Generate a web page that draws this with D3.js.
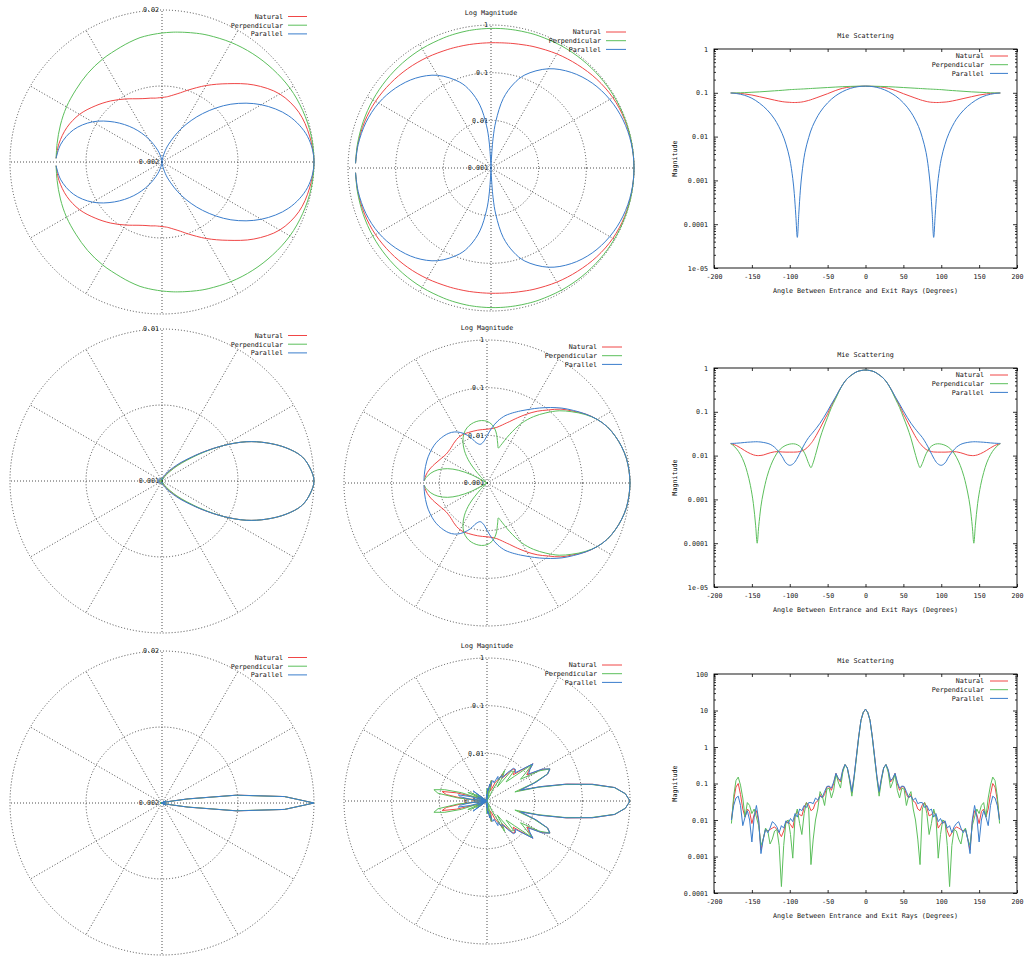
<!DOCTYPE html>
<html lang="en">
<head>
<meta charset="UTF-8">
<title>Mie Scattering</title>
<style>
  body { margin: 0; background: #fff; }
  svg text { font-family: "DejaVu Sans Mono", monospace; font-size: 6.7px; fill: #111; }
  .grid { fill: none; stroke: #222; stroke-width: 0.8; stroke-dasharray: 1,2; }
  .curve { fill: none; stroke-width: 1; }
  .tick line { stroke: #000; stroke-width: 0.8; }
</style>
</head>
<body>
<svg id="chart"></svg>
<script src="https://cdnjs.cloudflare.com/ajax/libs/d3/7.8.5/d3.min.js"></script>
<script>
// series names / colours (legend order = draw order)
const seriesNames = ['Natural', 'Perpendicular', 'Parallel'];
const seriesColors = ['#f04646', '#5cbf5c', '#3a7dcc'];

// row 1: angle (deg, 0..180, symmetric) and magnitude
const angles1 = [0,10,20,30,40,50,60,70,75,80,84,86,88,90,92,94,96,100,105,110,120,130,140,150,160,170,178];
const natural1 = [0.142,0.140,0.136,0.127,0.112,0.0955,0.0825,0.0715,0.067,0.0637,0.0617,0.061,0.0606,0.0603,0.0601,0.06,0.06,0.0606,0.0614,0.0629,0.068,0.0745,0.0815,0.089,0.0945,0.0978,0.099];
const perpendicular1 = [0.142,0.1415,0.140,0.138,0.135,0.132,0.129,0.126,0.1245,0.123,0.122,0.1215,0.121,0.1205,0.12,0.1195,0.119,0.118,0.116,0.114,0.111,0.108,0.105,0.103,0.101,0.0995,0.099];
const parallel1 = [0.142,0.138,0.126,0.107,0.084,0.059,0.036,0.017,0.0095,0.0043,0.0014,0.0006,0.00018,0.00005,0.00016,0.0005,0.0011,0.0031,0.0067,0.0117,0.025,0.041,0.058,0.075,0.088,0.096,0.099];

// row 2
const angles2 = [0,5,10,15,20,25,30,35,40,45,50,55,60,65,70,72,75,80,85,90,95,100,105,110,115,120,125,130,135,138,141,143,145,148,152,156,160,165,170,175,178];
const natural2 = [0.9,0.88,0.84,0.76,0.66,0.55,0.42,0.3,0.2,0.14,0.09,0.062,0.042,0.029,0.021,0.019,0.0165,0.0138,0.0126,0.0121,0.012,0.012,0.012,0.0121,0.0123,0.0122,0.0117,0.011,0.0103,0.0101,0.01,0.01,0.0101,0.0104,0.0111,0.012,0.0132,0.015,0.0168,0.0182,0.0188];
const perpendicular2 = [0.9,0.88,0.84,0.76,0.66,0.55,0.42,0.29,0.19,0.125,0.075,0.045,0.025,0.012,0.0062,0.0053,0.0066,0.011,0.0152,0.0177,0.0186,0.0183,0.0172,0.0153,0.0126,0.0092,0.006,0.0033,0.0014,0.0007,0.00024,0.0001,0.00025,0.0008,0.0021,0.0041,0.0068,0.0105,0.0141,0.0173,0.0186];
const parallel2 = [0.9,0.88,0.84,0.76,0.66,0.55,0.42,0.3,0.21,0.15,0.105,0.075,0.055,0.042,0.033,0.03,0.026,0.019,0.013,0.0088,0.0066,0.006,0.0068,0.0095,0.0125,0.0155,0.0178,0.0192,0.02,0.0204,0.0206,0.0207,0.0207,0.0206,0.0204,0.0202,0.0199,0.0195,0.0192,0.019,0.019];

// row 3
const angles3 = [0,3,6,9,12,15,18,21,24,27,30,33,36,39,42,45,48,51,54,57,60,63,66,69,72,75,78,81,84,87,90,93,96,99,102,105,108,111,114,117,120,123,126,129,132,135,138,141,144,147,150,153,156,159,162,165,168,171,174,177];
const natural3 = [10.9,8.8,5.4,1.9,0.55,0.155,0.055,0.13,0.27,0.33,0.23,0.11,0.13,0.19,0.1,0.065,0.083,0.08,0.05,0.04,0.05,0.033,0.03,0.02,0.018,0.026,0.03,0.022,0.013,0.014,0.017,0.013,0.006,0.0075,0.009,0.0085,0.005,0.0035,0.0045,0.0055,0.0065,0.006,0.0055,0.005,0.0055,0.003,0.0015,0.009,0.018,0.014,0.008,0.017,0.02,0.012,0.02,0.05,0.1,0.08,0.035,0.01];
const perpendicular3 = [10.9,8.8,5.3,1.8,0.5,0.14,0.045,0.12,0.26,0.33,0.2,0.075,0.11,0.18,0.065,0.04,0.075,0.07,0.025,0.045,0.06,0.02,0.01,0.003,0.0006,0.02,0.03,0.015,0.004,0.008,0.02,0.012,0.0009,0.004,0.01,0.009,0.002,0.00015,0.002,0.0055,0.005,0.003,0.0022,0.005,0.006,0.003,0.002,0.007,0.012,0.02,0.015,0.025,0.03,0.012,0.04,0.09,0.15,0.12,0.045,0.008];
const parallel3 = [10.9,8.8,5.4,1.9,0.55,0.16,0.06,0.14,0.27,0.33,0.24,0.12,0.14,0.19,0.11,0.075,0.085,0.083,0.06,0.042,0.045,0.035,0.04,0.028,0.03,0.03,0.022,0.025,0.018,0.02,0.012,0.015,0.009,0.011,0.008,0.0095,0.006,0.007,0.0045,0.0065,0.008,0.009,0.006,0.0045,0.0055,0.003,0.0012,0.01,0.025,0.012,0.0025,0.01,0.018,0.012,0.007,0.025,0.045,0.04,0.025,0.01];

// tick labels
const linearPolarLabels = [['0.002', '0.02'], ['0.001', '0.01'], ['0.002', '0.02']];
const logPolarLabels = ['0.001', '0.01', '0.1', '1'];
const xTickValues = [-200, -150, -100, -50, 0, 50, 100, 150, 200];
const yTickLabels12 = ['1', '0.1', '0.01', '0.001', '0.0001', '1e-05'];
const yTickLabels3 = ['100', '10', '1', '0.1', '0.01', '0.001', '0.0001'];

const width = 1028, height = 956;
const svg = d3.select('#chart').attr('width', width).attr('height', height);

function mirror(angles, values) {
  const pts = angles.map((a, i) => ({a: a, v: values[i]}));
  const neg = pts.slice(1).reverse().map(p => ({a: -p.a, v: p.v}));
  return neg.concat(pts);
}

// rows 1 and 2 are smooth curves, row 3 is drawn as a plain polyline
const rows = [
  {series: [natural1, perpendicular1, parallel1], angles: angles1, curve: d3.curveCatmullRom.alpha(0.5)},
  {series: [natural2, perpendicular2, parallel2], angles: angles2, curve: d3.curveCatmullRom.alpha(0.5)},
  {series: [natural3, perpendicular3, parallel3], angles: angles3, curve: d3.curveLinear}
];

function legend(g, textRight, y0, x1, x2) {
  seriesNames.forEach((name, i) => {
    const y = y0 + i * 8.7;
    g.append('text').attr('x', textRight).attr('y', y).attr('dy', '0.35em')
      .attr('text-anchor', 'end').text(name);
    g.append('line').attr('x1', x1).attr('x2', x2).attr('y1', y).attr('y2', y)
      .attr('stroke', seriesColors[i]).attr('stroke-width', 1);
  });
}

function drawPolar(row, cx, cy, log, labels, title) {
  const R = log ? 143 : 152;
  const peak = d3.max(row.series, s => d3.max(s));
  const r = log
    ? d3.scaleLog().domain([peak / 1000, peak]).range([0, R]).clamp(true)
    : d3.scaleLinear().domain([0, peak]).range([0, R]);
  const ringValues = log ? [peak / 100, peak / 10, peak] : [peak / 2, peak];
  const g = svg.append('g');

  ringValues.forEach(v => {
    g.append('circle').attr('class', 'grid').attr('cx', cx).attr('cy', cy).attr('r', r(v));
  });
  d3.range(0, 360, 30).forEach(deg => {
    const t = deg * Math.PI / 180;
    g.append('line').attr('class', 'grid')
      .attr('x1', cx).attr('y1', cy)
      .attr('x2', cx + R * Math.cos(t)).attr('y2', cy - R * Math.sin(t));
  });

  // radial labels along the vertical axis: centre first, then rings
  const labelRadii = [0].concat(ringValues.map(v => r(v)));
  const shown = log ? labels : [labels[0], null, labels[1]];
  shown.forEach((txt, i) => {
    if (txt === null) return;
    g.append('text').attr('x', cx - 3).attr('y', cy - labelRadii[i]).attr('dy', '0.35em')
      .attr('text-anchor', 'end').text(txt);
  });

  if (title) {
    g.append('text').attr('x', cx).attr('y', cy - R - 12.5).attr('dy', '0.35em')
      .attr('text-anchor', 'middle').text(title);
  }

  const line = d3.line()
    .curve(row.curve)
    .x(p => cx + r(p.v) * Math.cos(p.a * Math.PI / 180))
    .y(p => cy - r(p.v) * Math.sin(p.a * Math.PI / 180));
  row.series.forEach((s, i) => {
    g.append('path').attr('class', 'curve').attr('stroke', seriesColors[i])
      .attr('d', line(mirror(row.angles, s)));
  });

  if (log) legend(g, cx + 110, cy - 136, cx + 115, cx + 135);
  else legend(g, cx + 121, cy - 145.5, cx + 126, cx + 145);
}

function drawCartesian(row, top, yLabels, idx) {
  const left = 714, right = 1017, bottom = top + 219;
  const yTicks = yLabels.map(Number);
  const x = d3.scaleLinear().domain([-200, 200]).range([left, right]);
  const y = d3.scaleLog().domain([yTicks[yTicks.length - 1], yTicks[0]]).range([bottom, top]);
  const minors = [];
  yTicks.slice(1).forEach(d => d3.range(2, 10).forEach(k => minors.push(d * k)));
  const g = svg.append('g');
  const noDomain = sel => sel.select('.domain').remove();

  g.append('g').attr('transform', `translate(0,${bottom})`)
    .call(d3.axisBottom(x).tickValues(xTickValues).tickSize(-3).tickPadding(6).tickFormat(d => String(d)))
    .call(noDomain);
  g.append('g').attr('transform', `translate(0,${top})`)
    .call(d3.axisTop(x).tickValues(xTickValues).tickSize(-3).tickFormat(''))
    .call(noDomain);
  g.append('g').attr('transform', `translate(${left},0)`)
    .call(d3.axisLeft(y).tickValues(yTicks).tickSize(-4).tickPadding(6).tickFormat((d, i) => yLabels[i]))
    .call(noDomain);
  g.append('g').attr('transform', `translate(${right},0)`)
    .call(d3.axisRight(y).tickValues(yTicks).tickSize(-4).tickFormat(''))
    .call(noDomain);
  g.append('g').attr('transform', `translate(${left},0)`)
    .call(d3.axisLeft(y).tickValues(minors).tickSize(-2).tickFormat(''))
    .call(noDomain);
  g.append('g').attr('transform', `translate(${right},0)`)
    .call(d3.axisRight(y).tickValues(minors).tickSize(-2).tickFormat(''))
    .call(noDomain);

  g.append('rect').attr('x', left).attr('y', top).attr('width', right - left).attr('height', bottom - top)
    .attr('fill', 'none').attr('stroke', '#000').attr('stroke-width', 0.9);

  g.append('text').attr('x', (left + right) / 2).attr('y', top - 13).attr('dy', '0.35em')
    .attr('text-anchor', 'middle').text('Mie Scattering');
  g.append('text').attr('x', (left + right) / 2).attr('y', bottom + 23).attr('dy', '0.35em')
    .attr('text-anchor', 'middle').text('Angle Between Entrance and Exit Rays (Degrees)');
  g.append('text').attr('transform', `translate(675,${(top + bottom) / 2}) rotate(-90)`)
    .attr('dy', '0.35em').attr('text-anchor', 'middle').text('Magnitude');

  const clipId = 'clip' + idx;
  svg.append('clipPath').attr('id', clipId).append('rect')
    .attr('x', left).attr('y', top).attr('width', right - left).attr('height', bottom - top);
  const line = d3.line().curve(row.curve).x(p => x(p.a)).y(p => y(p.v));
  row.series.forEach((s, i) => {
    g.append('path').attr('class', 'curve').attr('clip-path', `url(#${clipId})`)
      .attr('stroke', seriesColors[i]).attr('d', line(mirror(row.angles, s)));
  });

  legend(g, 984, top + 7, 990, 1008);
}

drawPolar(rows[0], 162, 162, false, linearPolarLabels[0]);
drawPolar(rows[0], 491, 168, true, logPolarLabels, 'Log Magnitude');
drawCartesian(rows[0], 49, yTickLabels12, 0);

drawPolar(rows[1], 162, 481, false, linearPolarLabels[1]);
drawPolar(rows[1], 487, 483, true, logPolarLabels, 'Log Magnitude');
drawCartesian(rows[1], 368, yTickLabels12, 1);

drawPolar(rows[2], 162, 803, false, linearPolarLabels[2]);
drawPolar(rows[2], 487, 801, true, logPolarLabels, 'Log Magnitude');
drawCartesian(rows[2], 674, yTickLabels3, 2);
</script>
</body>
</html>
